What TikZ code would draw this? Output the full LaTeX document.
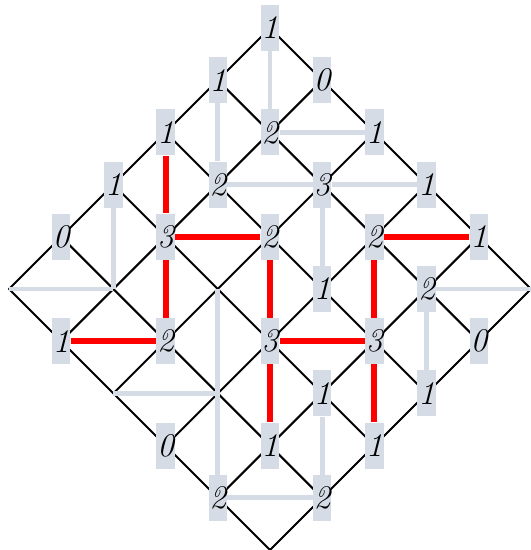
\documentclass[tikz,border=0pt]{standalone}
\usepackage{xcolor}
\usepackage{tikz}
\usetikzlibrary{calc}
\definecolor{boxfill}{RGB}{213,220,230}
\definecolor{pathred}{RGB}{255,0,0}
\tikzset{
  numbox/.style={
    rectangle, fill=boxfill, draw=none, minimum width=10pt,
    minimum height=25pt, inner xsep=0.5pt, inner ysep=0pt,
    font=\fontsize{18}{20}\selectfont\itshape
  },
  grid line/.style={draw=black, line width=1.1pt, line cap=round},
  link/.style={draw=boxfill, line width=2.7pt},
  chosen/.style={draw=pathred, line width=3.3pt},
}
\begin{document}
\begin{tikzpicture}
  \useasboundingbox (-5.172,0.536) rectangle (5,-10);
  \foreach \k in {0,...,5} {
    \draw[grid line] ({\k},{-\k}) -- ({\k-5},{-\k-5});
    \draw[grid line] ({-\k},{-\k}) -- ({5-\k},{-\k-5});
  }
  \foreach \i/\j in {0/5,1/4,2/3,2/5,3/4,5/0}
    \coordinate (c\i\j) at ({\i-\j},{-\i-\j});
  \foreach \i/\j/\v in {0/0/1,0/1/1,1/0/0,0/2/1,1/1/2,2/0/1,0/3/1,1/2/2,2/1/3,3/0/1,
      0/4/0,1/3/3,2/2/2,3/1/2,4/0/1,3/2/1,4/1/2,1/5/1,2/4/2,3/3/3,4/2/3,5/1/0,
      4/3/1,5/2/1,3/5/0,4/4/1,5/3/1,4/5/2,5/4/2}
    \node[numbox] (n\i\j) at ({\i-\j},{-\i-\j}) {\v};
  \path (n00) edge[link] (n11)
        (n01) edge[link] (n12)
        (n11) edge[link] (n20)
        (n12) edge[link] (n21)
        (n21) edge[link] (n30)
        (n03) edge[link] (c14)
        (c05) edge[link] (c14)
        (n21) edge[link] (n32)
        (n41) edge[link] (c50)
        (n41) edge[link] (n52)
        (c23) edge[link] (n45)
        (c25) edge[link] (c34)
        (n43) edge[link] (n54)
        (n45) edge[link] (n54);
  \path (n02) edge[chosen] (n13)
        (n13) edge[chosen] (n22)
        (n13) edge[chosen] (n24)
        (n22) edge[chosen] (n33)
        (n15) edge[chosen] (n24)
        (n31) edge[chosen] (n40)
        (n31) edge[chosen] (n42)
        (n42) edge[chosen] (n53)
        (n33) edge[chosen] (n42)
        (n33) edge[chosen] (n44);
\end{tikzpicture}
\end{document}
